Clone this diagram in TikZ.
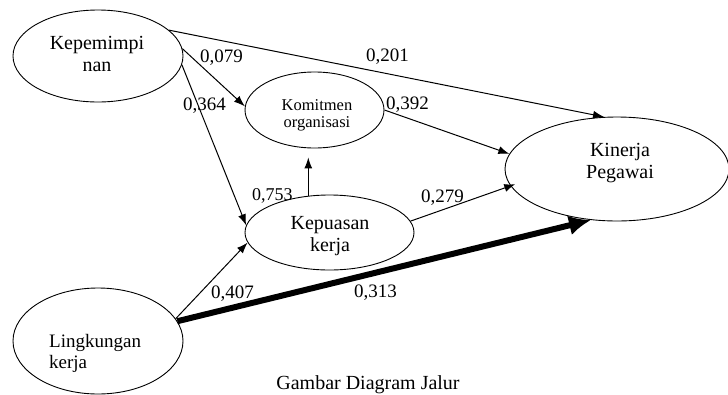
\documentclass[tikz,border=0pt]{standalone}
\usepackage{fontspec}
\setmainfont{Liberation Serif}
\usetikzlibrary{shapes.geometric,arrows.meta}
\begin{document}
\begin{tikzpicture}[x=1pt,y=-1pt,
  ell/.style={draw,ellipse,inner sep=0pt,line width=0.9pt},
  txt/.style={inner sep=0pt,align=center,font=\fontsize{20}{22}\selectfont},
  smalltxt/.style={inner sep=0pt,align=center,font=\fontsize{16.5}{17}\selectfont},
  lbl/.style={inner sep=0pt,anchor=base west,font=\fontsize{19}{21}\selectfont},
  arr/.style={-{Latex[length=11pt,width=8pt]},line width=1pt},
  boldarr/.style={-{Latex[length=22pt,width=20pt]},line width=6pt}]
\useasboundingbox (0,0) rectangle (728,394);
% ellipses
\node[ell,minimum width=170pt,minimum height=92pt] (kep) at (98,56) {};
\node[ell,minimum width=139pt,minimum height=76pt] (kom) at (314.5,110) {};
\node[ell,minimum width=224pt,minimum height=104pt] (kin) at (617,169) {};
\node[ell,minimum width=169pt,minimum height=75pt] (kpu) at (329.5,232.5) {};
\node[ell,minimum width=170pt,minimum height=106pt] (lin) at (98,341) {};
% texts
\node[txt] (kept) at (97,54.2) {Kepemimpi\\nan};
\node[smalltxt] (komt) at (317,115.6) {Komitmen\\organisasi};
\node[txt] (kint) at (620,163.3) {Kinerja\\Pegawai};
\node[txt] (kput) at (330,236.5) {Kepuasan\\kerja};
\node[txt,align=left,anchor=west,font=\fontsize{19}{21}\selectfont] (lint) at (49,353.8) {Lingkungan\\kerja};
% connectors
\draw[arr] (kep.20) -- (kin.104);
\draw[arr] (kep.5.5) -- (kom.177);
\draw[arr] (kep.-6) -- (kpu.175);
\draw[arr,shorten >=9pt] (kpu.120.66) -- (kpu.120.66 |- kom.south);
\draw[arr] (kom.east) -- (kin.172.7);
\draw[arr,shorten >=-5pt] (kpu.8.6) -- (kin.189.8);
\draw[arr] (lin.16.2) -- (kpu.187.3);
\draw[boldarr] (lin.14.9) -- (kin.243.7);
% labels
\node[lbl] (l079) at (200,62) {0,079};
\node[lbl] (l364) at (183,110) {0,364};
\node[lbl,font=\fontsize{18}{20}\selectfont] (l753) at (252,200) {0,753};
\node[lbl] (l201) at (366,61) {0,201};
\node[lbl] (l392) at (386,109) {0,392};
\node[lbl] (l279) at (421,202) {0,279};
\node[lbl] (l407) at (211,298) {0,407};
\node[lbl] (l313) at (354,297) {0,313};
% caption
\node[txt,anchor=base] (cap) at (368,389) {Gambar Diagram Jalur};
\end{tikzpicture}
\end{document}
